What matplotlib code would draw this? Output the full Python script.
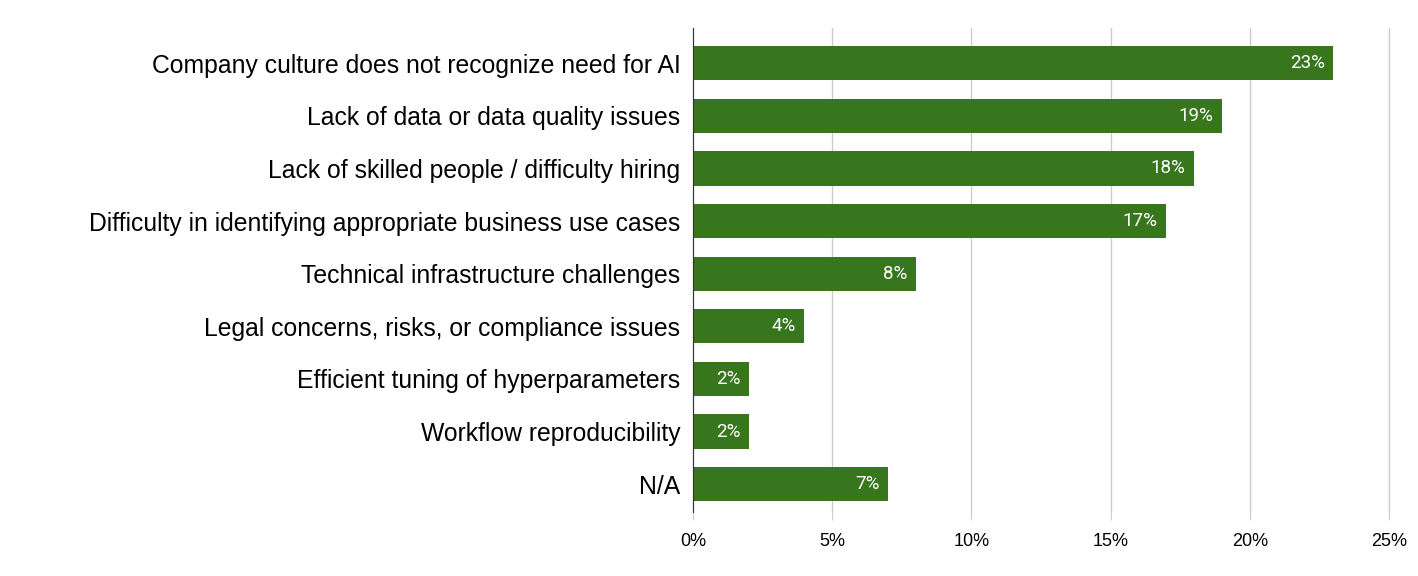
import matplotlib.pyplot as plt
import numpy as np

plt.rcParams['font.family'] = ['Liberation Sans', 'DejaVu Sans']

categories = [
    'Company culture does not recognize need for AI',
    'Lack of data or data quality issues',
    'Lack of skilled people / difficulty hiring',
    'Difficulty in identifying appropriate business use cases',
    'Technical infrastructure challenges',
    'Legal concerns, risks, or compliance issues',
    'Efficient tuning of hyperparameters',
    'Workflow reproducibility',
    'N/A',
]
values = [23, 19, 18, 17, 8, 4, 2, 2, 7]
xticks = [0, 5, 10, 15, 20, 25]

green = '#38761d'

fig = plt.figure(figsize=(14.18, 5.76), dpi=100)
ax = fig.add_axes([0.4887, 0.111, 0.4908, 0.840])

y = np.arange(len(categories))
ax.barh(y, values, height=0.65, color=green, zorder=3)

# value labels inside the bar ends
for yi, v in zip(y, values):
    ax.text(v - 0.3, yi, f'{v}%', ha='right', va='center',
            color='white', fontsize=13.5, family=['Roboto', 'DejaVu Sans'],
            zorder=4)

ax.set_xlim(0, 25)
ax.set_ylim(8.53, -0.665)
ax.set_yticks(y)
ax.set_yticklabels(categories, fontsize=17.8)
ax.set_xticks(xticks)
ax.set_xticklabels([f'{t}%' for t in xticks], fontsize=13)

ax.grid(axis='x', color='#cccccc', linewidth=1, zorder=0)
for gl in ax.get_xgridlines():
    gl.set_clip_on(False)
for s in ['top', 'right', 'bottom']:
    ax.spines[s].set_visible(False)
ax.spines['left'].set_color('#333333')
ax.spines['left'].set_zorder(5)
ax.tick_params(axis='y', length=0, pad=9)
ax.tick_params(axis='x', length=6, color='#cccccc', pad=9)

fig.savefig('out.png', dpi=100)
